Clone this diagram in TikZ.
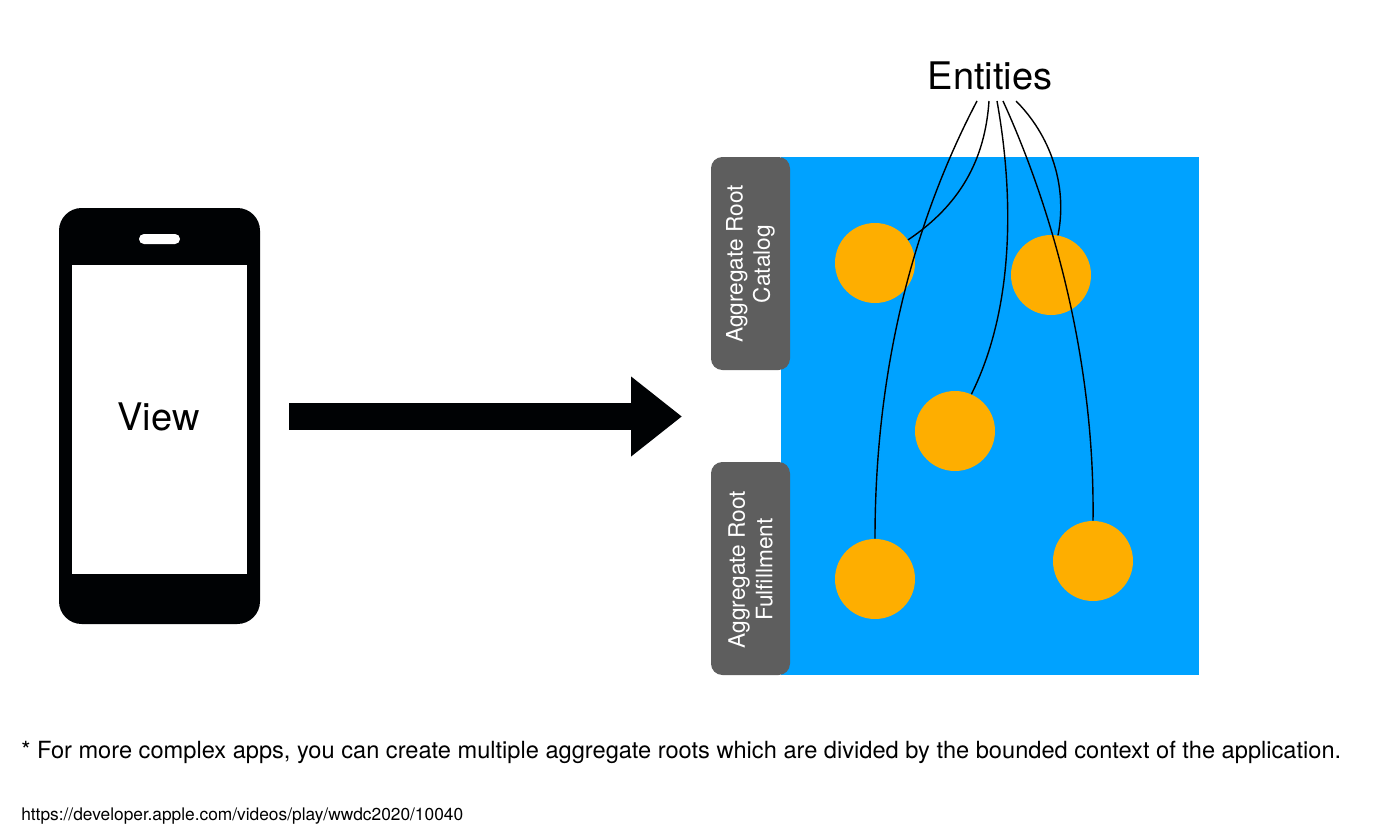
\documentclass[tikz,border=0pt]{standalone}
\usepackage{fontspec}
\setmainfont{TeX Gyre Heros}
\usetikzlibrary{arrows.meta}
\definecolor{skyb}{HTML}{00A2FF}
\definecolor{orng}{HTML}{FEAE00}
\definecolor{slate}{HTML}{5E5E5E}
\definecolor{phoneblk}{HTML}{000204}
\tikzset{
  x=0.75pt,y=-0.75pt,
  entity/.style={circle,fill=orng,draw=none,minimum size=60pt,inner sep=0pt},
  rootbox/.style={rounded corners=8.5pt,fill=slate,draw=none,minimum width=59.25pt,minimum height=159.75pt,inner sep=0pt},
  rootlabel/.style={rotate=90,text=white,align=center,font=\fontsize{17}{20.5}\selectfont,inner sep=0pt},
  link/.style={draw=black,line width=1.05pt},
  bigtext/.style={font=\fontsize{28.5}{32}\selectfont,text=black,inner sep=0pt},
  note/.style={anchor=base west,inner sep=0pt,text=black}
}
\begin{document}
\begin{tikzpicture}
\useasboundingbox (0,0) rectangle (1400,839);
% phone
\node[fill=phoneblk,rounded corners=17pt,minimum width=150.75pt,minimum height=312pt,inner sep=0pt] (phone) at (159.5,416) {};
\node[fill=white,minimum width=130.9pt,minimum height=231.75pt,inner sep=0pt] (screen) at (159.75,419.5) {};
\node[fill=white,rounded corners=3.7pt,minimum width=30.75pt,minimum height=7.5pt,inner sep=0pt] (speaker) at (159.5,239) {};
\node[bigtext] (view) at (158.5,417) {View};
% arrow
\coordinate (arrowS) at (289,416.5);
\coordinate (arrowE) at (682,416.5);
\draw[line width=20.25pt,phoneblk,-{Triangle[length=38.25pt,width=57.5pt,fill=phoneblk]}] (arrowS) -- (arrowE);
% blue area
\node[fill=skyb,minimum width=313.5pt,minimum height=388.5pt,inner sep=0pt] (area) at (990,416) {};
% roots
\node[rootbox] (rootA) at (750.5,263.5) {};
\node[rootlabel] (rootAt) at (750.5,264) {Aggregate Root\\Catalog};
\node[rootbox] (rootB) at (750.5,568.5) {};
\node[rootlabel] (rootBt) at (750.5,569.5) {Aggregate Root\\Fulfillment};
% entities
\node[entity] (c1) at (875,263) {};
\node[entity] (c2) at (1051,275) {};
\node[entity] (c3) at (955,431) {};
\node[entity] (c4) at (875,579) {};
\node[entity] (c5) at (1093,561) {};
\node[bigtext] (ent) at (990,76) {Entities};
\coordinate (e1) at (977,101);
\coordinate (e2) at (989,101);
\coordinate (e3) at (997,101);
\coordinate (e4) at (1003,101);
\coordinate (e5) at (1016,101);
\draw[link] (e1) .. controls (925,200) and (875,345) .. (c4.north);
\draw[link] (e2) .. controls (985,160) and (960,205) .. (c1.35);
\draw[link] (e3) .. controls (1013,190) and (1016,305) .. (c3.66);
\draw[link] (e4) .. controls (1055,215) and (1095,365) .. (c5.north);
\draw[link] (e5) .. controls (1050,135) and (1068,185) .. (c2.80);
% notes
\node[note,font=\fontsize{17.72}{20}\selectfont] (foot) at (21,758) {* For more complex apps, you can create multiple aggregate roots which are divided by the bounded context of the application.};
\node[note,font=\fontsize{13}{15}\selectfont] (url) at (21,820) {https://developer.apple.com/videos/play/wwdc2020/10040};
\end{tikzpicture}
\end{document}
